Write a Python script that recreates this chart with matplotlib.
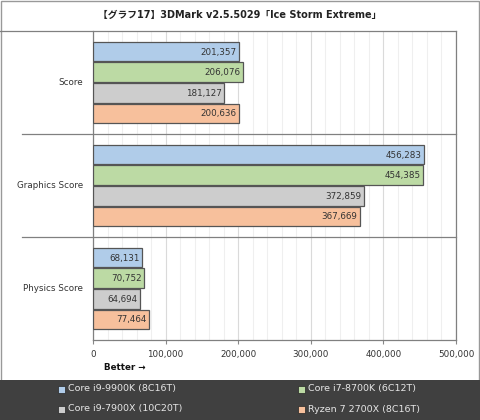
import matplotlib
matplotlib.use("Agg")
import matplotlib.pyplot as plt
import matplotlib.transforms as mtransforms
from matplotlib.patches import Rectangle
from matplotlib.ticker import FuncFormatter, MultipleLocator

plt.rcParams['font.family'] = ['DejaVu Sans', 'Noto Sans CJK JP']

title = "【グラフ17】3DMark v2.5.5029「Ice Storm Extreme」"
categories = ["Score", "Graphics Score", "Physics Score"]
cpus = ["Core i9-9900K (8C16T)", "Core i7-8700K (6C12T)",
        "Core i9-7900X (10C20T)", "Ryzen 7 2700X (8C16T)"]
i9_9900k = [201357, 456283, 68131]
i7_8700k = [206076, 454385, 70752]
i9_7900x = [181127, 372859, 64694]
r7_2700x = [200636, 367669, 77464]
series = [i9_9900k, i7_8700k, i9_7900x, r7_2700x]
colors = ["#b0cce9", "#bcdaa4", "#cdcdcd", "#f7c09c"]

W, H = 480, 420
fig = plt.figure(figsize=(4.8, 4.2), dpi=100)

# axes box in pixel coordinates
x0, x1, ytop, ybot = 93, 456, 31, 340
ax = fig.add_axes([x0 / W, (H - ybot) / H, (x1 - x0) / W, (ybot - ytop) / H])

pitch = 0.2
h = 0.19
for i, (vals, c) in enumerate(zip(series, colors)):
    ys = [k + 0.5 + (i - 1.5) * pitch for k in range(len(categories))]
    ax.barh(ys, vals, height=h, color=c, edgecolor="#555555", linewidth=0.9, zorder=3)
    for y, v in zip(ys, vals):
        ax.text(v - 3500, y + 0.005, f"{v:,}", ha="right", va="center",
                fontsize=6.3, color="#333333", zorder=4)

ax.set_xlim(0, 500000)
ax.set_ylim(3, 0)
ax.xaxis.set_major_locator(MultipleLocator(100000))
ax.xaxis.set_minor_locator(MultipleLocator(20000))
ax.xaxis.set_major_formatter(FuncFormatter(lambda v, p: f"{int(v):,}"))
ax.tick_params(axis="x", which="major", length=3, color="#888888",
               labelsize=6.3, labelcolor="#333333", pad=4)
ax.tick_params(axis="x", which="minor", length=0)
ax.set_yticks([])
ax.grid(axis="x", which="major", color="#dadada", linewidth=0.8, zorder=0)
ax.grid(axis="x", which="minor", color="#efefef", linewidth=0.8, zorder=0)
for s in ["left", "bottom", "right"]:
    ax.spines[s].set_color("#808080")
    ax.spines[s].set_linewidth(0.9)
ax.spines["top"].set_visible(False)

# category labels and separators
trans = mtransforms.blended_transform_factory(ax.transAxes, ax.transData)
for k, name in enumerate(categories):
    ax.text(-0.027, k + 0.5, name, transform=trans, ha="right", va="center",
            fontsize=6.3, color="#333333")
for k in (1, 2):
    ax.plot([-0.196, 1], [k, k], transform=trans, color="#808080",
            linewidth=0.9, clip_on=False, zorder=5)

# title separator line and outer border
fig.add_artist(plt.Line2D([0, x1 / W], [(H - ytop) / H] * 2, color="#808080",
                          linewidth=0.9))
fig.add_artist(Rectangle((0.5 / W, 0.5 / H), 1 - 1.5 / W, 1 - 1.5 / H, fill=False,
                         edgecolor="#999999", linewidth=1))
fig.text(0.5, (H - 15) / H, title, ha="center", va="center", fontsize=7.0,
         fontweight="bold", color="#222222",
         family=["DejaVu Sans", "Noto Sans CJK JP"])

fig.text(104 / W, (H - 368) / H, "Better →", ha="left", va="center",
         fontsize=6.3, fontweight="bold", color="#111111")

# legend band
fig.add_artist(Rectangle((0, 0), 1, (H - 380) / H, facecolor="#404040",
                         edgecolor="none"))
pos = [(61, 389), (301, 389), (61, 409), (301, 409)]
for (px, py), name, c in zip(pos, cpus, colors):
    fig.add_artist(Rectangle(((px - 3.5) / W, (H - py - 3.5) / H), 7 / W, 7 / H,
                             facecolor=c, edgecolor="#222222", linewidth=0.5))
    fig.text((px + 7) / W, (H - py) / H, name, ha="left", va="center",
             fontsize=6.8, color="#e6e6e6")

fig.savefig("out.png", dpi=100)
